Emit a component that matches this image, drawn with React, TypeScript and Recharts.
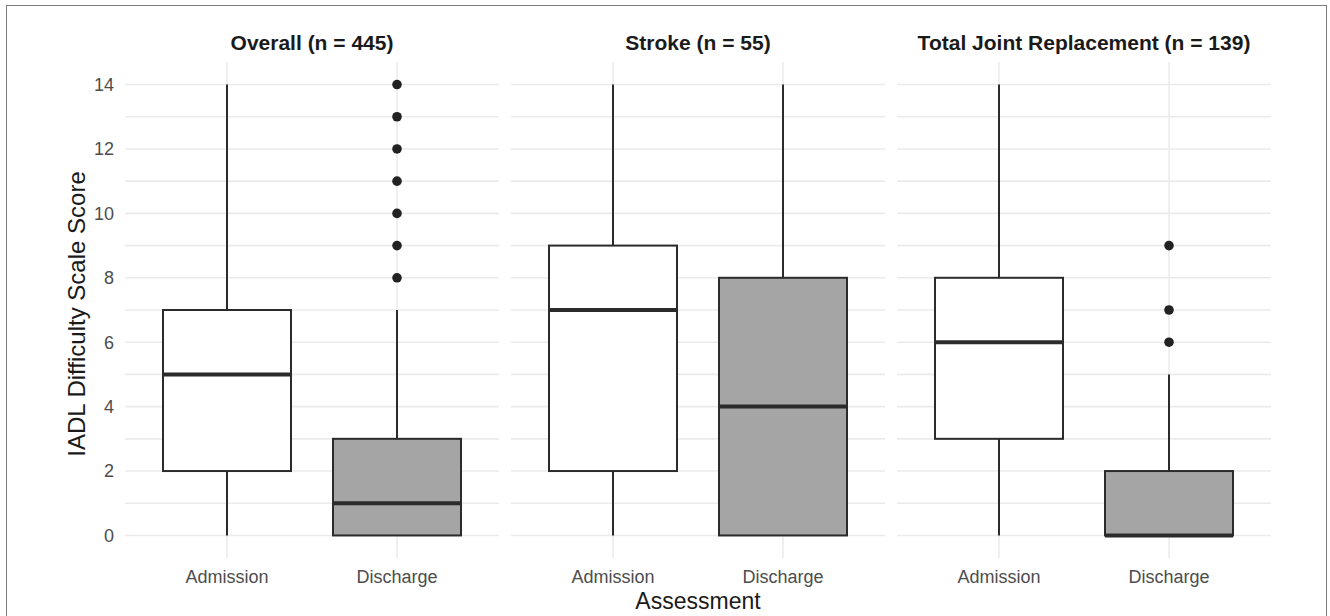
import React from 'react';
import { ComposedChart, Bar, XAxis, YAxis, CartesianGrid } from 'recharts';

const panelTitles = ['Overall (n = 445)', 'Stroke (n = 55)', 'Total Joint Replacement (n = 139)'];
const assessments = ['Admission', 'Discharge'];
const boxFills = ['#ffffff', '#a5a5a5'];

// per panel: [Admission, Discharge]
const whiskerLow = [[0, 0], [0, 0], [0, 0]];
const q1 = [[2, 0], [2, 0], [3, 0]];
const median = [[5, 1], [7, 4], [6, 0]];
const q3 = [[7, 3], [9, 8], [8, 2]];
const whiskerHigh = [[14, 7], [14, 14], [14, 5]];
const outliers = [
  [[], [8, 9, 10, 11, 12, 13, 14]],
  [[], []],
  [[], [6, 7, 9]],
];

const yTicks = [0, 1, 2, 3, 4, 5, 6, 7, 8, 9, 10, 11, 12, 13, 14];

const FONT = '"Liberation Sans", Arial, Helvetica, sans-serif';
const INK = '#2b2b2b';

const panelLeft = [125, 511, 897];
const PANEL_W = 374;

function BoxShape(props: any) {
  const { x, y, width, height, payload } = props;
  const h = Math.abs(height);
  const top = Math.min(y, y + height);
  const ppu = h / (payload.q3 - payload.q1);
  const toY = (v: number) => top + (payload.q3 - v) * ppu;
  const cx = x + width / 2;
  return (
    <g>
      {payload.hi > payload.q3 && (
        <line x1={cx} x2={cx} y1={toY(payload.hi)} y2={toY(payload.q3)} stroke={INK} strokeWidth={2} />
      )}
      {payload.lo < payload.q1 && (
        <line x1={cx} x2={cx} y1={toY(payload.q1)} y2={toY(payload.lo)} stroke={INK} strokeWidth={2} />
      )}
      <rect x={x} y={top} width={width} height={h} fill={payload.fill} stroke={INK} strokeWidth={2} />
      <line x1={x} x2={x + width} y1={toY(payload.med)} y2={toY(payload.med)} stroke={INK} strokeWidth={4} />
      {payload.out.map((v: number, i: number) => (
        <circle key={i} cx={cx} cy={toY(v)} r={4.8} fill="#222222" />
      ))}
    </g>
  );
}

function Panel({ idx }: { idx: number }) {
  const data = assessments.map((a, j) => ({
    assessment: a,
    lo: whiskerLow[idx][j],
    q1: q1[idx][j],
    med: median[idx][j],
    q3: q3[idx][j],
    hi: whiskerHigh[idx][j],
    out: outliers[idx][j],
    fill: boxFills[j],
  }));
  const first = idx === 0;
  return (
    <ComposedChart
      width={first ? panelLeft[0] + PANEL_W : PANEL_W}
      height={616}
      data={data}
      margin={{ top: 62, right: 0, bottom: 18, left: 0 }}
    >
      <CartesianGrid stroke="#ebebeb" strokeWidth={1.6} syncWithTicks />
      <XAxis
        dataKey="assessment"
        padding={{ left: 17, right: 17 }}
        height={40}
        axisLine={false}
        tickLine={false}
        tickSize={0}
        tickMargin={12}
        interval={0}
        tick={{ fontSize: 18, fill: '#4d4d4d', fontFamily: FONT }}
      />
      <YAxis
        type="number"
        domain={[-0.7, 14.7]}
        allowDataOverflow
        ticks={yTicks}
        interval={0}
        hide={!first}
        width={first ? panelLeft[0] : 0}
        axisLine={false}
        tickLine={false}
        tickSize={0}
        tickMargin={11}
        tickFormatter={(v: number) => (v % 2 === 0 ? String(v) : '')}
        tick={{ fontSize: 18, fill: '#4d4d4d', fontFamily: FONT }}
      />
      <Bar
        dataKey={(d: any) => [d.q1, d.q3]}
        barSize={128}
        shape={BoxShape}
        isAnimationActive={false}
      />
    </ComposedChart>
  );
}

export default function App() {
  return (
    <div
      style={{
        position: 'fixed',
        left: 0,
        top: 0,
        width: 1330,
        height: 616,
        background: '#ffffff',
        overflow: 'hidden',
        fontFamily: FONT,
      }}
    >
      <div
        style={{
          position: 'absolute',
          left: 6,
          top: 5,
          width: 1319,
          height: 700,
          border: '1.5px solid #7a7a7a',
        }}
      />
      {[0, 1, 2].map((i) => (
        <div key={i} style={{ position: 'absolute', left: i === 0 ? 0 : panelLeft[i], top: 0 }}>
          <Panel idx={i} />
        </div>
      ))}
      <svg
        width={1330}
        height={616}
        style={{ position: 'absolute', left: 0, top: 0, pointerEvents: 'none' }}
      >
        {panelTitles.map((t, i) => (
          <text
            key={t}
            x={panelLeft[i] + PANEL_W / 2}
            y={50}
            textAnchor="middle"
            fontSize={21}
            fontWeight="bold"
            fill="#1a1a1a"
            fontFamily={FONT}
          >
            {t}
          </text>
        ))}
        <text x={698} y={609} textAnchor="middle" fontSize={23} fill="#1a1a1a" fontFamily={FONT}>
          Assessment
        </text>
        <text
          x={85}
          y={314}
          textAnchor="middle"
          fontSize={24}
          fill="#1a1a1a"
          fontFamily={FONT}
          transform="rotate(-90 85 314)"
        >
          IADL Difficulty Scale Score
        </text>
      </svg>
    </div>
  );
}
